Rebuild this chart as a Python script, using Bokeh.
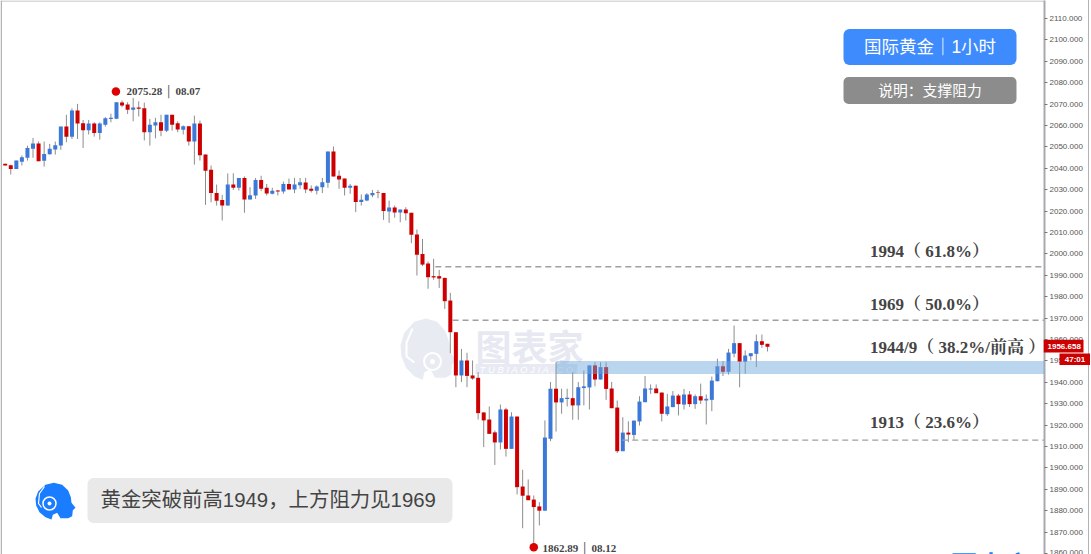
from bokeh.plotting import figure
from bokeh.models import BoxAnnotation, Label, Range1d, FixedTicker, NumeralTickFormatter
from bokeh.core.properties import value
from bokeh.embed import file_html
from bokeh.resources import INLINE

open_ = [2042.1,2041.4,2039.7,2043.1,2044.9,2049.1,2051.6,2043.5,2046.6,2048.8,2050.6,2059.5,2054.8,2067.0,2061.0,2057.8,2060.9,2056.5,2060.4,2063.0,2063.1,2070.7,2069.8,2067.4,2068.4,2068.1,2056.9,2060.0,2061.5,2057.5,2065.0,2061.0,2058.0,2059.7,2052.5,2060.9,2046.4,2039.3,2028.4,2025.2,2022.6,2032.4,2030.9,2035.5,2025.4,2027.3,2034.5,2030.9,2028.1,2029.6,2029.2,2032.7,2030.1,2032.1,2033.4,2030.4,2029.5,2031.2,2033.2,2047.8,2036.5,2035.2,2030.9,2031.8,2024.2,2024.9,2027.4,2028.7,2028.5,2019.8,2021.7,2019.3,2020.7,2019.2,2009.1,1999.9,1995.5,1989.6,1989.6,1988.8,1978.2,1963.4,1943.2,1950.2,1943.2,1942.1,1925.9,1922.6,1916.6,1911.9,1927.3,1908.9,1924.0,1891.3,1887.1,1885.2,1882.0,1880.0,1913.6,1937.0,1930.6,1932.2,1932.6,1929.2,1937.3,1937.6,1947.9,1941.3,1947.1,1937.1,1928.2,1907.8,1916.5,1915.4,1921.7,1930.7,1936.6,1937.1,1935.2,1925.1,1928.4,1933.8,1929.6,1934.3,1929.8,1933.5,1931.5,1931.8,1940.5,1947.5,1944.9,1953.4,1958.3,1949.6,1952.2,1953.3,1959.2,1958.0]
close = [2041.3,2039.7,2043.6,2045.2,2049.5,2051.6,2043.3,2046.7,2049.1,2050.8,2059.5,2054.8,2067.0,2060.9,2057.8,2060.9,2056.5,2060.9,2063.4,2063.6,2070.9,2069.3,2067.4,2068.4,2067.8,2056.9,2060.4,2061.5,2057.5,2065.0,2060.4,2058.1,2059.7,2052.5,2060.9,2046.1,2038.8,2028.4,2024.8,2022.6,2032.4,2030.9,2035.5,2025.4,2027.4,2034.5,2030.4,2028.2,2029.5,2029.2,2032.7,2030.1,2032.4,2033.5,2030.1,2029.5,2031.5,2033.5,2047.8,2036.2,2034.8,2030.9,2031.8,2024.2,2025.3,2027.8,2028.5,2028.4,2020.0,2021.7,2019.3,2020.7,2019.0,2008.9,1999.6,1995.0,1989.1,1989.0,1988.5,1977.9,1963.4,1943.2,1950.2,1943.0,1941.8,1925.6,1922.2,1915.9,1911.9,1927.3,1908.9,1924.0,1891.0,1887.0,1884.9,1881.7,1880.0,1914.2,1937.0,1930.6,1932.6,1932.8,1929.2,1937.7,1938.1,1947.9,1941.3,1947.1,1936.9,1927.9,1907.8,1916.5,1915.6,1922.1,1931.0,1937.1,1937.1,1934.9,1925.3,1928.7,1933.8,1929.8,1934.3,1929.8,1933.5,1931.5,1932.3,1940.8,1947.5,1944.9,1953.9,1958.3,1949.6,1952.5,1953.6,1959.2,1957.5,1956.6]
high = [2042.1,2041.7,2043.6,2046.0,2050.6,2054.2,2052.5,2052.5,2051.4,2052.5,2059.5,2065.0,2068.0,2070.1,2062.6,2062.6,2061.5,2061.5,2063.9,2065.5,2071.0,2071.7,2070.9,2072.9,2071.3,2070.7,2063.1,2063.6,2065.0,2065.0,2065.0,2062.0,2060.0,2059.7,2064.6,2062.3,2046.4,2041.3,2032.4,2027.6,2037.6,2037.7,2035.5,2036.2,2031.2,2035.5,2036.5,2032.7,2030.9,2029.9,2033.8,2035.2,2035.5,2035.5,2035.5,2032.0,2032.0,2035.5,2047.8,2050.2,2039.0,2035.2,2032.7,2032.0,2027.8,2028.4,2029.9,2029.9,2028.5,2024.9,2022.6,2020.7,2021.8,2019.2,2011.4,2007.0,1996.4,1997.7,1992.5,1988.8,1981.8,1963.4,1955.6,1953.8,1950.2,1944.7,1926.1,1928.7,1917.5,1929.6,1928.1,1926.0,1924.0,1899.1,1894.6,1887.1,1884.0,1922.2,1940.1,1949.4,1937.0,1937.0,1944.7,1940.1,1945.5,1947.9,1949.4,1949.4,1949.4,1940.2,1931.5,1923.7,1921.8,1922.1,1933.5,1942.9,1939.0,1939.0,1935.2,1934.6,1935.9,1934.6,1936.9,1935.9,1934.3,1939.4,1934.3,1942.7,1951.0,1949.9,1955.6,1966.5,1958.3,1954.9,1953.6,1962.3,1962.3,1958.0]
low = [2041.3,2037.1,2039.7,2041.3,2043.6,2044.9,2043.3,2040.8,2046.4,2046.4,2048.6,2052.2,2053.7,2053.7,2049.5,2055.8,2054.8,2053.4,2059.5,2061.5,2063.0,2068.5,2065.4,2062.0,2064.2,2053.0,2050.6,2054.0,2055.0,2056.9,2057.6,2056.9,2055.8,2050.6,2041.7,2043.6,2022.9,2024.1,2022.6,2015.6,2022.5,2029.9,2029.6,2019.2,2025.4,2025.7,2029.3,2027.3,2027.8,2027.3,2028.1,2030.1,2028.4,2030.4,2028.4,2028.7,2027.8,2028.4,2030.9,2036.2,2030.4,2027.3,2028.1,2019.5,2022.6,2024.6,2026.5,2026.0,2015.9,2014.5,2016.9,2014.8,2015.6,2005.0,1989.9,1994.3,1983.7,1987.9,1984.1,1974.3,1953.6,1937.7,1940.1,1937.7,1941.2,1922.6,1909.7,1915.9,1901.4,1908.6,1905.3,1908.9,1887.6,1871.8,1884.9,1862.89,1873.1,1880.0,1912.5,1917.0,1925.3,1928.7,1922.5,1922.5,1929.2,1927.3,1938.1,1941.3,1931.8,1927.9,1906.9,1907.8,1912.0,1913.1,1919.8,1930.7,1934.6,1934.9,1921.7,1924.3,1928.4,1924.5,1927.3,1928.4,1927.6,1929.9,1920.3,1926.5,1940.5,1942.9,1943.6,1951.7,1937.7,1944.0,1950.2,1947.1,1956.1,1954.4]

yaxis_ticks = list(range(1860, 2111, 10))
level_prices = [1994, 1969, 1913]
level_starts = [77.3, 80.4, 110.9]
level_labels = ["1994（ 61.8%）", "1969（ 50.0%）", "1913（ 23.6%）"]
band_low, band_high, band_start = 1943.6, 1949.7, 99
last_price_label, countdown_label = "1956.658", "47:01"
peak_idx, peak_val, peak_label = 20, 2075.28, "2075.28 │ 08.07"
trough_idx, trough_val, trough_label = 95, 1862.89, "1862.89  │  08.12"

W, H = 1089, 554
FRAME_W = 1044
PX_PER_BAR = 5.564
PX_PER_UNIT = 2.14
X0 = 4.7          # pixel of the first candle
Y2110 = 18.0      # pixel of the 2110 tick

def X(px):
    return (px - X0) / PX_PER_BAR
def Y(py):
    return 2110 - (py - Y2110) / PX_PER_UNIT

p = figure(width=W, height=H, output_backend="svg", toolbar_location=None,
           x_range=Range1d(X(0), X(FRAME_W)), y_range=Range1d(Y(H), Y(0)),
           min_border_left=0, min_border_right=W - FRAME_W, min_border_top=0, min_border_bottom=0,
           x_axis_location=None, y_axis_location="right",
           background_fill_color="white", border_fill_color="white", outline_line_color=None)
p.styles = {"position": "absolute", "left": "0", "top": "0", "border-right": "1.5px solid #b4b4b8"}
p.grid.visible = False

ax = p.yaxis[0]
ax.ticker = FixedTicker(ticks=yaxis_ticks)
ax.formatter = NumeralTickFormatter(format="0.000")
ax.axis_line_color = "#a9a9ad"
ax.axis_line_width = 2
ax.major_tick_line_color = "#777777"
ax.major_tick_in = 0
ax.major_tick_out = 3
ax.minor_tick_line_color = None
ax.major_label_text_font = "Liberation Sans"
ax.major_label_text_font_size = "8px"
ax.major_label_text_color = "#555555"
ax.major_label_standoff = 2

def lab(px, py, s, size, color, font="Liberation Sans", style="normal", align="left", baseline="middle", level="overlay", **kw):
    p.add_layout(Label(x=X(px), y=Y(py), text=s, text_font=font, text_font_size=f"{size}px",
                       text_color=color, text_font_style=style, text_align=align,
                       text_baseline=baseline, level=level, **kw))

def box(l, r, t, b, color, radius=0, alpha=1.0, level="annotation"):
    p.add_layout(BoxAnnotation(left=X(l), right=X(r), top=Y(t), bottom=Y(b), fill_color=color,
                               fill_alpha=alpha, line_color=None, line_alpha=0,
                               border_radius=radius, level=level))

# frame edges
box(0, 1.5, 0, H, "#b4b4b8")
box(0, FRAME_W, 0, 1, "#b4b4b8")

# watermark behind the candles
head_x = [60,85,110,128,136,138,150,142,140,128,105,95,82,78,60,42,32,30,38]
head_y = [28,22,28,45,65,82,97,104,122,128,128,112,118,132,125,110,90,70,48]
wm_x = [X(400 + (v - 30) * 0.46) for v in head_x]
wm_y = [Y(318 + (v - 22) * 0.56) for v in head_y]
p.patch(wm_x, wm_y, fill_color="#e8ebf2", line_color=None, level="underlay")
p.scatter([X(432)], [Y(361)], size=17, fill_color="#e8ebf2", line_color="white", line_width=2, level="underlay")
p.scatter([X(432)], [Y(361)], size=5, fill_color="white", line_color=None, level="underlay")
p.multi_line([[X(412), X(406), X(406), X(414)]], [[Y(328), Y(342), Y(356), Y(362)]], line_color="white", line_width=2, level="underlay")
box(475, 577, 363.5, 373.5, "#e7eaf2", level="underlay")
lab(475, 344, "图表家", 36, "#e6e9f1", "Noto Sans CJK SC", "bold", level="underlay")
lab(479, 368.5, "T U B I A O J I A . C O M", 9.5, "white", "Liberation Sans", "italic", level="underlay")

# candles
idx = list(range(len(open_)))
colors = ["#cc0000" if c < o else "#3c78d8" for o, c in zip(open_, close)]
tops = [max(o, c) for o, c in zip(open_, close)]
bots = [min(o, c) for o, c in zip(open_, close)]
p.segment(idx, high, idx, low, line_color="#8c8c8c", line_width=1)
p.vbar(x=idx, top=tops, bottom=bots, width=0.72, fill_color=colors, line_color=None)

# support / resistance
box(X0 + band_start * PX_PER_BAR, FRAME_W, 360.5, 373.5, "#6fa8dc", alpha=0.48)
for price, start in zip(level_prices, level_starts):
    p.line([start, X(FRAME_W)], [price, price], line_color="#a0a0a0", line_width=1.4, line_dash="6 4")

SERIF = "Liberation Serif, Noto Serif CJK SC, Noto Sans CJK SC"
for py, s in zip([251, 304, 422], level_labels):
    lab(869.5, py, s, 17, "#444444", SERIF, "bold")
lab(869.5, 347, "1944/9（ 38.2%/前高 ）", 17, "#444444", SERIF, "bold")

# extremes
p.scatter([peak_idx - 0.1], [peak_val + 0.6], size=8.5, fill_color="#dd0000", line_color=None)
p.scatter([trough_idx], [trough_val], size=8.5, fill_color="#dd0000", line_color=None)
lab(126, 90.5, peak_label, 11, "#444444", "Liberation Serif", "bold")
lab(542, 547.5, trough_label, 11, "#444444", "Liberation Serif", "bold")

# title chips
box(843, 1016, 28.5, 64.5, "#3d8bfd", radius=6)
lab(929.5, 46, "国际黄金｜1小时", 17.5, "white", "Liberation Sans, Noto Sans CJK SC", align="center")
box(843, 1016, 76.5, 103.5, "#8c8c8c", radius=5)
lab(929.5, 89, "说明：支撑阻力", 14.8, "white", "Noto Sans CJK SC", align="center")

# comment bubble with avatar
box(87, 452, 477.5, 522.5, "#e9e9e9", radius=6)
lab(100, 499.5, "黄金突破前高1949，上方阻力见1969", 20.4, "#444444", "Liberation Sans, Noto Sans CJK SC")
ic_x = [X(25 + v / 3) for v in head_x]
ic_y = [Y(475 + v / 3) for v in head_y]
p.patch(ic_x, ic_y, fill_color="#1a7cff", line_color=None)
p.scatter([X(49)], [Y(503)], size=13, fill_color="#1a7cff", line_color="white", line_width=1.5)
p.scatter([X(49)], [Y(503)], size=4, fill_color="white", line_color=None)
p.multi_line([[X(44), X(39), X(38), X(41)]], [[Y(486), Y(493), Y(503), Y(507)]], line_color="white", line_width=1.2)

# cut-off mark at the bottom right
lab(950, 544, "图表家", 27, "#1a7cff", "Noto Sans CJK SC", "bold", baseline="top")

# last price tags: a small transparent figure laid over the axis
tags = figure(width=47, height=26, output_backend="svg", toolbar_location=None,
              x_range=Range1d(1043, 1090), y_range=Range1d(365, 339),
              min_border_left=0, min_border_right=0, min_border_top=0, min_border_bottom=0,
              x_axis_location=None, y_axis_location=None,
              background_fill_color=None, border_fill_color=None, outline_line_color=None)
tags.styles = {"position": "absolute", "left": "1043px", "top": "339px", "z-index": "10"}
tags.grid.visible = False
tags.quad(left=[1043, 1059], right=[1083, 1089.5], top=[339, 353], bottom=[352, 364.5],
          fill_color="#cc0000", line_color=None)
tags.text(x=[1047, 1074.5], y=[345.8, 359], text=[last_price_label, countdown_label],
          text_font=value("Liberation Sans"), text_font_size="8px", text_font_style="bold",
          text_color="white", text_baseline="middle", text_align=["left", "center"])

open("out.html", "w").write(file_html([p, tags], INLINE))
